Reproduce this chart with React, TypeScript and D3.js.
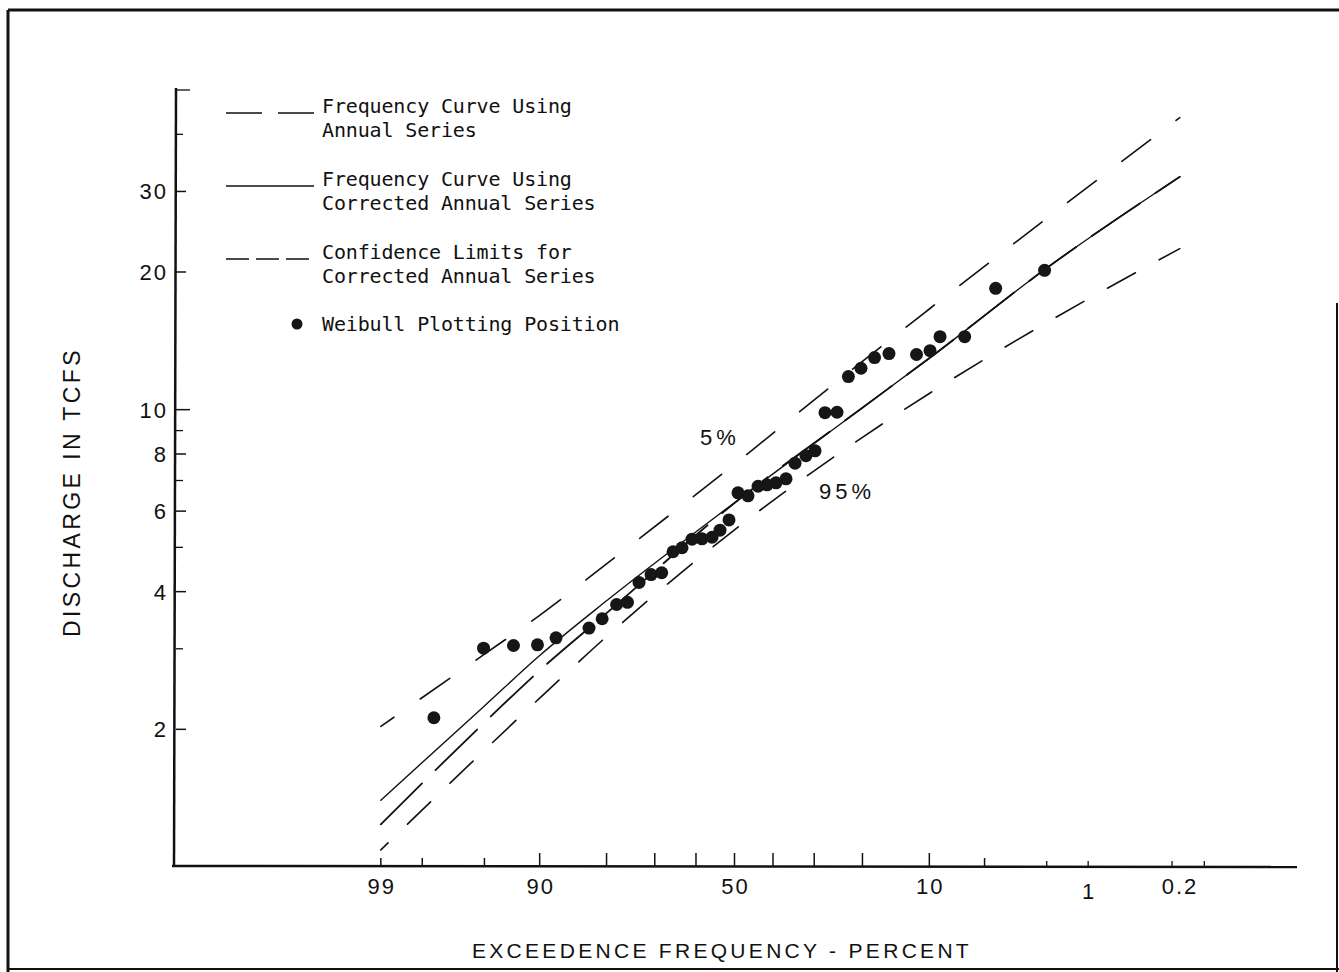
import React from "react";
import * as d3 from "d3";

// ---------- data ----------
// Weibull plotting positions (exceedance %, discharge in thousand cfs)
const obsExceedance = [
  97.6, 95.06, 92.7, 90.25, 87.98, 83.07, 80.8, 78.1, 75.93, 73.5,
  70.85, 68.4, 65.7, 63.5, 61.0, 58.47, 55.88, 53.8, 51.44, 49.08,
  46.46, 43.84, 41.53, 39.24, 36.73, 34.53, 31.92, 29.81, 27.59, 25.0,
  22.69, 20.27, 17.85, 15.48, 11.56, 9.92, 8.82, 6.5, 4.29, 2.07,
];
const obsDischarge = [
  2.12, 3.01, 3.05, 3.06, 3.17, 3.33, 3.49, 3.75, 3.79, 4.19,
  4.36, 4.4, 4.89, 4.99, 5.21, 5.22, 5.26, 5.45, 5.74, 6.58,
  6.48, 6.8, 6.85, 6.92, 7.06, 7.64, 7.93, 8.13, 9.85, 9.87,
  11.81, 12.32, 13.0, 13.26, 13.2, 13.46, 14.44, 14.44, 18.42, 20.17,
];

// Curves sampled at these exceedance frequencies (%)
const curveExceedance = [99, 95, 90, 80, 50, 20, 10, 2, 0.17];
const annualSeriesCurve = [1.24, 2.07, 2.69, 3.59, 6.25, 10.1, 12.96, 20.4, 32.3];
const correctedCurve = [1.4, 2.25, 2.9, 3.82, 6.26, 10.1, 12.96, 20.4, 32.3];
const upperLimit5 = [2.03, 2.92, 3.55, 4.6, 7.6, 12.76, 16.6, 26.2, 43.5];
const lowerLimit95 = [1.09, 1.8, 2.34, 3.19, 5.46, 8.7, 10.85, 15.5, 22.5];

// Axis ticks
const xLabelTicks = ["99", "90", "50", "10", "1", "0.2"];
const xLongTicks = [90, 80, 70, 60, 50, 40, 30, 20, 10];
const xShortTicks = [99, 98, 95, 5];
const xTinyTicks = [2, 1, 0.2, 0.1];
const yLabelTicks = [2, 4, 6, 8, 10, 20, 30];
const yMinorTicks = [3, 5, 7, 9, 40, 50];

const legendEntries = [
  ["Frequency Curve Using", "Annual Series"],
  ["Frequency Curve Using", "Corrected Annual Series"],
  ["Confidence Limits for", "Corrected Annual Series"],
  ["Weibull Plotting Position"],
];

const xAxisTitle = "EXCEEDENCE FREQUENCY  -  PERCENT";
const yAxisTitle = "DISCHARGE IN TCFS";
const limitLabels = ["5%", "95%"];

// ---------- helpers ----------
function normInv(p: number): number {
  const a = [-3.969683028665376e1, 2.209460984245205e2, -2.759285104469687e2, 1.38357751867269e2, -3.066479806614716e1, 2.506628277459239];
  const b = [-5.447609879822406e1, 1.615858368580409e2, -1.556989798598866e2, 6.680131188771972e1, -1.328068155288572e1];
  const c = [-7.784894002430293e-3, -3.223964580411365e-1, -2.400758277161838, -2.549732539343734, 4.374664141464968, 2.938163982698783];
  const d = [7.784695709041462e-3, 3.224671290700398e-1, 2.445134137142996, 3.754408661907416];
  const pl = 0.02425;
  let q: number, r: number;
  if (p < pl) {
    q = Math.sqrt(-2 * Math.log(p));
    return (((((c[0] * q + c[1]) * q + c[2]) * q + c[3]) * q + c[4]) * q + c[5]) / ((((d[0] * q + d[1]) * q + d[2]) * q + d[3]) * q + 1);
  } else if (p <= 1 - pl) {
    q = p - 0.5;
    r = q * q;
    return ((((((a[0] * r + a[1]) * r + a[2]) * r + a[3]) * r + a[4]) * r + a[5]) * q) / (((((b[0] * r + b[1]) * r + b[2]) * r + b[3]) * r + b[4]) * r + 1);
  }
  q = Math.sqrt(-2 * Math.log(1 - p));
  return -(((((c[0] * q + c[1]) * q + c[2]) * q + c[3]) * q + c[4]) * q + c[5]) / ((((d[0] * q + d[1]) * q + d[2]) * q + d[3]) * q + 1);
}

const W = 1339;
const H = 972;
const zScale = d3.scaleLinear().domain([-3.7, 3.7]).range([172, 1297]);
const x = (exc: number) => zScale(normInv(1 - exc / 100));
const y = d3.scaleLog().domain([1, 50]).range([867, 90]);

const SANS = "'Liberation Sans', Arial, Helvetica, sans-serif";
const MONO = "'DejaVu Sans Mono', monospace";

const lineGen = d3
  .line<[number, number]>()
  .x((d) => x(d[0]))
  .y((d) => y(d[1]))
  .curve(d3.curveMonotoneX);

const pathFor = (vals: number[]) =>
  lineGen(curveExceedance.map((e, i) => [e, vals[i]] as [number, number])) || "";

export default function App() {
  const axisY = y(1) - 1;
  const axisX = zScale(-3.7) + 4;
  const legendX = 226;
  const legendLineEnd = 314;
  const legendTextX = 322;
  const legendBase = [113, 186, 259, 331];

  return (
    <svg
      width={W}
      height={H}
      viewBox={`0 0 ${W} ${H}`}
      style={{ position: "absolute", left: 0, top: 0, display: "block", background: "#fff" }}
    >
      <rect x={0} y={0} width={W} height={H} fill="#fff" />
      {/* frame */}
      <g stroke="#111" strokeWidth={3} fill="none">
        <line x1={8} y1={10} x2={W} y2={10} />
        <line x1={8} y1={10} x2={8} y2={H} />
        <line x1={8} y1={969} x2={W} y2={969} strokeWidth={2} />
        <line x1={1337} y1={303} x2={1337} y2={H} strokeWidth={2} />
      </g>

      {/* axes */}
      <g stroke="#111" fill="none">
        <line x1={axisX} y1={y(50) - 2} x2={axisX - 2} y2={axisY} strokeWidth={2.5} />
        <line x1={zScale(-3.7)} y1={axisY} x2={zScale(3.7)} y2={axisY + 1} strokeWidth={2.5} />
        {yLabelTicks.map((t) => (
          <line key={"yt" + t} x1={axisX} x2={axisX + (t === 10 ? 14 : 10)} y1={y(t)} y2={y(t)} strokeWidth={1.5} />
        ))}
        {yMinorTicks.map((t) => (
          <line key={"ym" + t} x1={axisX} x2={axisX + (t === 50 ? 14 : 7)} y1={y(t)} y2={y(t)} strokeWidth={1.3} />
        ))}
        {xLongTicks.map((t) => (
          <line key={"xl" + t} x1={x(t)} x2={x(t)} y1={axisY} y2={axisY - 13} strokeWidth={1.5} />
        ))}
        {xShortTicks.map((t) => (
          <line key={"xs" + t} x1={x(t)} x2={x(t)} y1={axisY} y2={axisY - 8} strokeWidth={1.5} />
        ))}
        {xTinyTicks.map((t) => (
          <line key={"xt" + t} x1={x(t)} x2={x(t)} y1={axisY} y2={axisY - 5} strokeWidth={1.3} />
        ))}
      </g>

      {/* tick labels */}
      <g fontFamily={SANS} fontSize={22} fill="#111" letterSpacing={2}>
        {yLabelTicks.map((t) => (
          <text key={"yl" + t} x={168} y={y(t)} dy="0.36em" textAnchor="end">
            {t}
          </text>
        ))}
        {xLabelTicks.map((t) => (
          <text key={"xl" + t} x={x(+t) + (t === "0.2" ? 8 : 1)} y={t === "1" ? 899 : 894} textAnchor="middle">
            {t}
          </text>
        ))}
      </g>

      {/* axis titles */}
      <text
        x={722}
        y={958}
        textAnchor="middle"
        fontFamily={SANS}
        fontSize={21}
        letterSpacing={3.3}
        fill="#111"
      >
        {xAxisTitle}
      </text>
      <text
        transform={`translate(80,492) rotate(-90)`}
        textAnchor="middle"
        fontFamily={SANS}
        fontSize={23}
        letterSpacing={3.4}
        fill="#111"
      >
        {yAxisTitle}
      </text>

      {/* curves */}
      <g fill="none" stroke="#111" strokeLinecap="round">
        <path d={pathFor(correctedCurve)} strokeWidth={1.4} />
        <path d={pathFor(annualSeriesCurve)} strokeWidth={1.8} strokeDasharray="58 19" />
        <path d={pathFor(upperLimit5)} strokeWidth={1.6} strokeDasharray="36 32" strokeDashoffset={20} />
        <path d={pathFor(lowerLimit95)} strokeWidth={1.6} strokeDasharray="32 27" strokeDashoffset={22} />
      </g>

      {/* points */}
      <g fill="#161616">
        {obsExceedance.map((e, i) => (
          <circle key={"p" + i} cx={x(e)} cy={y(obsDischarge[i])} r={6.5} />
        ))}
      </g>

      {/* limit labels */}
      <g fontFamily={SANS} fontSize={22} fill="#111" letterSpacing={4}>
        <text x={x(obsExceedance[20]) - 48} y={445}>{limitLabels[0]}</text>
        <text x={x(obsExceedance[28]) - 6} y={499}>{limitLabels[1]}</text>
      </g>

      {/* legend */}
      <g stroke="#111" fill="none" strokeWidth={1.5}>
        <line x1={legendX} x2={legendLineEnd} y1={legendBase[0]} y2={legendBase[0]} strokeDasharray="36 16" />
        <line x1={legendX} x2={legendLineEnd} y1={legendBase[1]} y2={legendBase[1]} />
        <line x1={legendX} x2={legendLineEnd - 4} y1={legendBase[2]} y2={legendBase[2]} strokeDasharray="23 7" />
      </g>
      <circle cx={297} cy={legendBase[3] - 7} r={5.5} fill="#161616" />
      <g fontFamily={MONO} fontSize={20} fill="#111" letterSpacing={-0.15}>
        {legendEntries.map((lines, i) =>
          lines.map((ln, j) => (
            <text key={"lg" + i + j} x={legendTextX} y={legendBase[i] + j * 24}>
              {ln}
            </text>
          ))
        )}
      </g>
    </svg>
  );
}
